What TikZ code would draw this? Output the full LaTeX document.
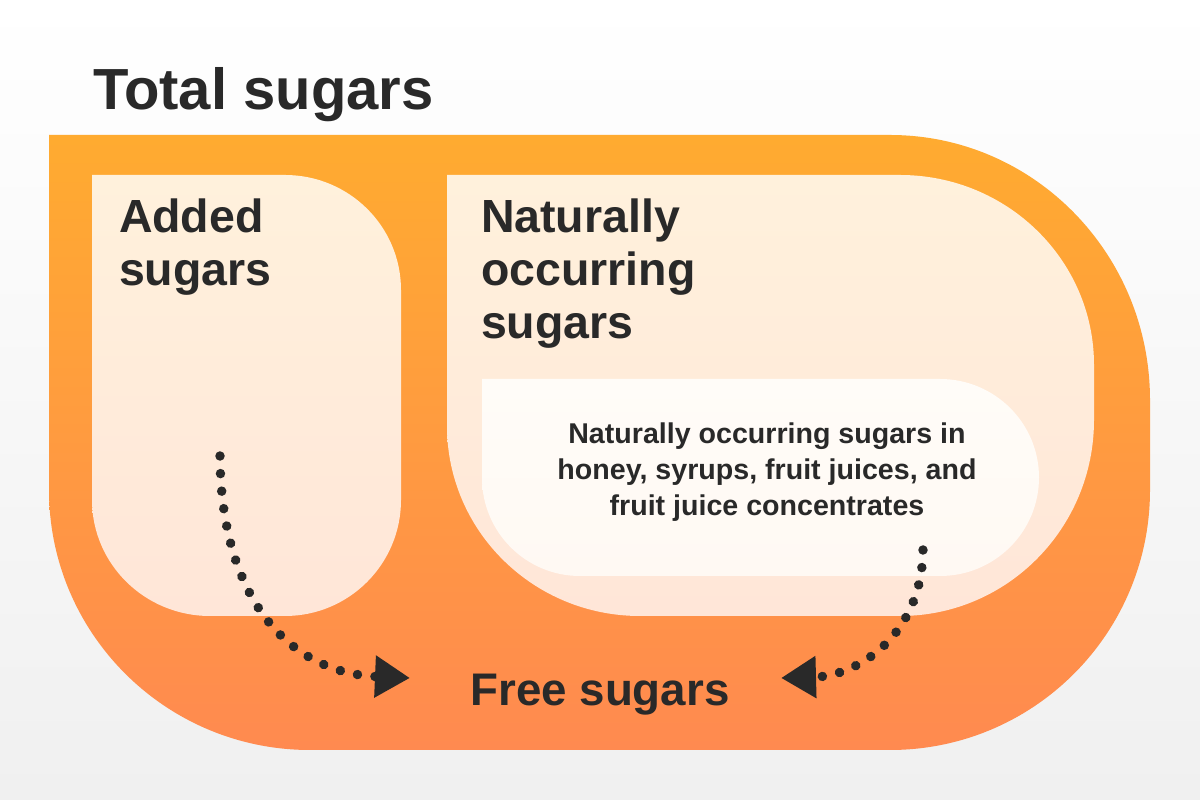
\documentclass[tikz,border=0pt]{standalone}
\usepackage{fontspec}
\setmainfont{Liberation Sans}[BoldFont={* Bold}]
\usetikzlibrary{arrows.meta}
\definecolor{ink}{HTML}{292929}
\definecolor{outertop}{HTML}{FFAB30}
\definecolor{outerbot}{HTML}{FF8A50}
\definecolor{midtop}{HTML}{FFF1DC}
\definecolor{midbot}{HTML}{FFE6D8}
\definecolor{innertop}{HTML}{FFFCF8}
\definecolor{innerbot}{HTML}{FFF9F3}
\definecolor{bgbot}{HTML}{F0F0F0}
\tikzset{
  lbl/.style={inner sep=0pt,outer sep=0pt,text=ink,font=\bfseries},
  dotflow/.style={draw=ink,line width=9.5pt,line cap=round,dash pattern=on 0.01pt off 17.6pt,
    -{Triangle[length=35pt,width=40pt,color=ink,line cap=butt]}},
}
\begin{document}
\begin{tikzpicture}[x=1pt,y=1pt]
\useasboundingbox (0,0) rectangle (1200,800);
\shade[top color=white,bottom color=bgbot] (0,0) rectangle (1200,800);
% outer shape
\shade[top color=outertop,bottom color=outerbot]
  (49,665) -- (890,665) arc[start angle=90,end angle=0,x radius=260,y radius=265]
  -- (1150,310) arc[start angle=0,end angle=-90,x radius=260,y radius=260]
  -- (310,50) arc[start angle=-90,end angle=-180,x radius=261,y radius=260] -- cycle;
% added sugars panel
\shade[top color=midtop,bottom color=midbot]
  (92,625) -- (285,625) arc[start angle=90,end angle=0,x radius=116,y radius=115]
  -- (401,300) arc[start angle=0,end angle=-90,x radius=116,y radius=116]
  -- (210,184) arc[start angle=-90,end angle=-180,x radius=118,y radius=116] -- cycle;
% naturally occurring panel
\shade[top color=midtop,bottom color=midbot]
  (447,625) -- (900,625) arc[start angle=90,end angle=0,x radius=194,y radius=190]
  -- (1094,380) arc[start angle=0,end angle=-90,x radius=194,y radius=196]
  -- (640,184) arc[start angle=-90,end angle=-180,x radius=193,y radius=190] -- cycle;
% inner panel
\shade[top color=innertop,bottom color=innerbot]
  (482,421) -- (940,421) arc[start angle=90,end angle=-90,x radius=99,y radius=98.5]
  -- (580,224) arc[start angle=-90,end angle=-180,x radius=98,y radius=98] -- cycle;
% texts
\node[lbl,anchor=base west,font=\bfseries\fontsize{58}{58}\selectfont] (title) at (93,690) {Total sugars};
\node[lbl,anchor=north west,align=left,font=\bfseries\fontsize{46.5}{53}\selectfont] (added) at (119,601) {Added\\sugars};
\node[lbl,anchor=north west,align=left,font=\bfseries\fontsize{46.5}{53}\selectfont] (natural) at (481,601) {Naturally\\occurring\\sugars};
\node[lbl,anchor=base,align=center,font=\bfseries\fontsize{28.6}{36}\selectfont] (juices) at (767,284) {Naturally occurring sugars in\\honey, syrups, fruit juices, and\\fruit juice concentrates};
\node[lbl,anchor=base,font=\bfseries\fontsize{45.7}{46}\selectfont] (free) at (600,94) {Free sugars};
% connectors
\coordinate (a1) at (220,344);
\coordinate (a2) at (410,122);
\coordinate (b1) at (923,250);
\coordinate (b2) at (781,122);
\draw[dotflow] (a1) .. controls (221,200) and (290,127) .. (a2);
\draw[dotflow] (b1) .. controls (922,165) and (858,124) .. (b2);
\end{tikzpicture}
\end{document}
